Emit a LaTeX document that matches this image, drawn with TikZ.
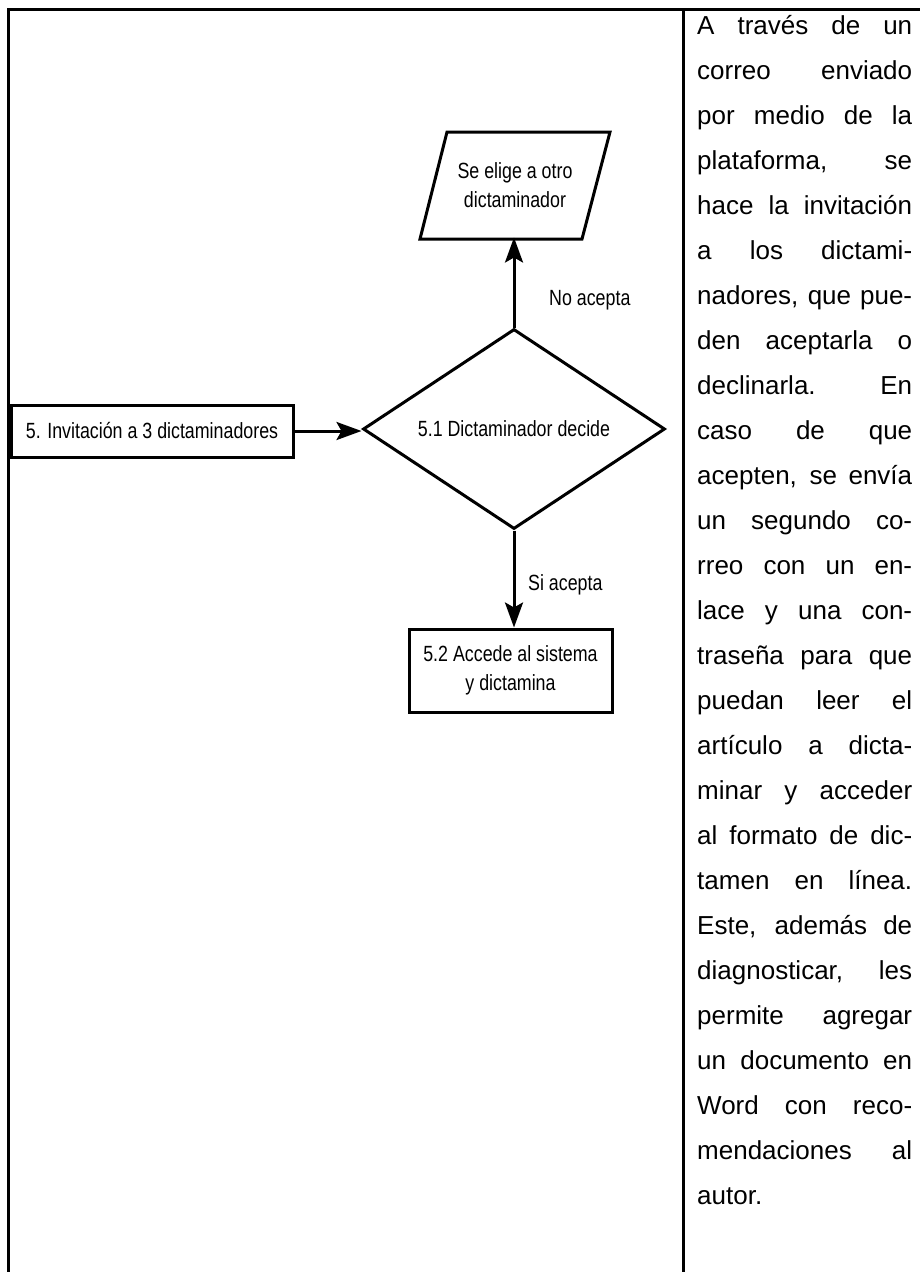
\documentclass[tikz,border=0pt]{standalone}
\usepackage{fontspec}
\setmainfont{Liberation Sans}
\newfontfamily\chartfont[FakeStretch=0.81]{Liberation Sans}
\usetikzlibrary{shapes.geometric,arrows.meta}

% one justified line of the description column
\newcommand\colline[3][s]{%
  \node[coltext] (c#2) at (697,{34+45*(#2-1)}) {\makebox[215pt][#1]{#3}};}

\begin{document}
\begin{tikzpicture}[x=1pt,y=-1pt,
  rule/.style={line width=3pt, line cap=rect},
  outline/.style={line width=3pt, line join=miter},
  chartbox/.style={draw, line width=3pt, align=center, inner sep=0pt,
    font=\chartfont\fontsize{22}{29}\selectfont},
  lbl/.style={inner sep=0pt, font=\chartfont\fontsize{22}{29}\selectfont},
  flow/.style={line width=3pt, -{Stealth[length=25pt,width=18pt,inset=5pt]}},
  coltext/.style={anchor=base west, inner sep=0pt, font=\fontsize{26}{45}\selectfont}]
\useasboundingbox (0,0) rectangle (920,1272);

% table rules
\draw[rule] (8,1272) -- (8,9) -- (920,9);
\draw[rule] (683,9) -- (683,1272);

% flowchart
\node[chartbox, minimum width=282pt, minimum height=52pt] (inv) at (152,431)
  {5. Invitación a 3 dictaminadores};
\node[chartbox, shape=diamond, aspect=1.5, minimum width=302pt, minimum height=200pt]
  (dec) at (514,429) {5.1 Dictaminador decide};
\node[lbl, align=center, minimum width=162pt, minimum height=101pt, outer sep=1.5pt]
  (alt) at (515,185.5) {Se elige a otro\\dictaminador};
\draw[outline] ([xshift=-68pt,yshift=1.5pt]alt.north) -- ([xshift=95pt,yshift=1.5pt]alt.north)
  -- ([xshift=67pt,yshift=-1.5pt]alt.south) -- ([xshift=-95pt,yshift=-1.5pt]alt.south) -- cycle;
\node[chartbox, minimum width=203pt, minimum height=83pt] (acc) at (510.5,670.5)
  {5.2 Accede al sistema\\y dictamina};

\draw[flow] (inv.east) -- (inv.east -| dec.west);
\draw[flow] (dec.north) -- (dec.north |- alt.south);
\draw[flow] (dec.south) -- (dec.south |- acc.north);

\node[lbl, anchor=west] (no) at (549,300) {No acepta};
\node[lbl, anchor=west] (si) at (528,585) {Si acepta};

% description column
\colline{1}{A través de un}
\colline{2}{correo enviado}
\colline{3}{por medio de la}
\colline{4}{plataforma, se}
\colline{5}{hace la invitación}
\colline{6}{a los dictami-}
\colline{7}{nadores, que pue-}
\colline{8}{den aceptarla o}
\colline{9}{declinarla. En}
\colline{10}{caso de que}
\colline{11}{acepten, se envía}
\colline{12}{un segundo co-}
\colline{13}{rreo con un en-}
\colline{14}{lace y una con-}
\colline{15}{traseña para que}
\colline{16}{puedan leer el}
\colline{17}{artículo a dicta-}
\colline{18}{minar y acceder}
\colline{19}{al formato de dic-}
\colline{20}{tamen en línea.}
\colline{21}{Este, además de}
\colline{22}{diagnosticar, les}
\colline{23}{permite agregar}
\colline{24}{un documento en}
\colline{25}{Word con reco-}
\colline{26}{mendaciones al}
\colline[l]{27}{autor.}
\end{tikzpicture}
\end{document}
